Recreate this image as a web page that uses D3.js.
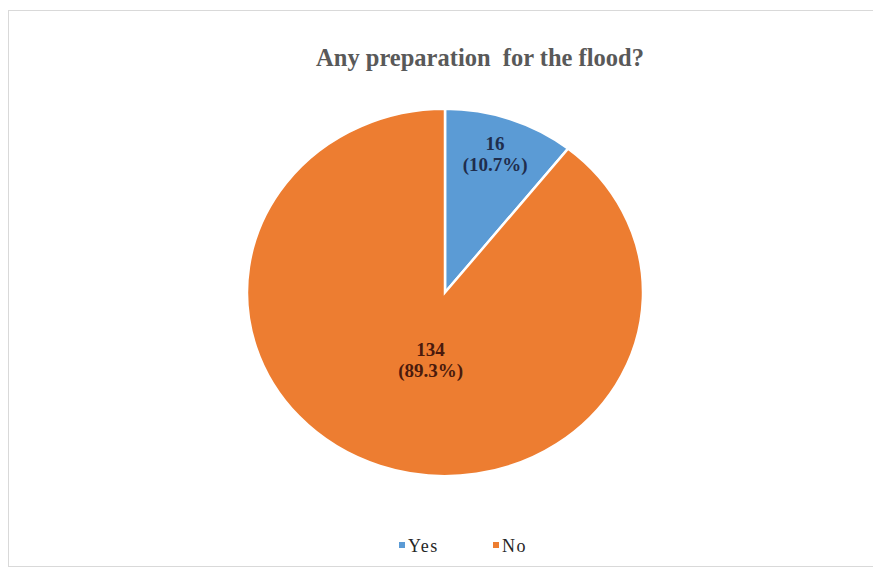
<!DOCTYPE html>
<html>
<head>
<meta charset="utf-8">
<script src="https://cdn.jsdelivr.net/npm/d3@7"></script>
<style>
  body { margin: 0; background: #fff; }
  text { font-family: "Liberation Serif", "Times New Roman", serif; }
</style>
</head>
<body>
<svg id="chart" width="873" height="569"></svg>
<script>
const categories = ["Yes", "No"];
const counts = [16, 134];
const percents = ["10.7%", "89.3%"];
const colors = ["#5b9bd5", "#ed7d31"];
const labelColors = ["#1f2d4d", "#4a1a0c"];
const title = "Any preparation\u00a0 for the flood?";

const width = 873, height = 569;
// the source picture is slightly squashed vertically, so the pie is an ellipse
const cx = 445, cy = 292.5, radius = 198, sy = 0.927;

const svg = d3.select("#chart");

// chart border
svg.append("rect")
    .attr("x", 8.5).attr("y", 10.5)
    .attr("width", width + 10).attr("height", height - 13)
    .attr("fill", "#fff")
    .attr("stroke", "#d9d9d9");

svg.append("text")
    .attr("x", 480).attr("y", 66)
    .attr("text-anchor", "middle")
    .attr("font-size", 24.5)
    .attr("font-weight", "bold")
    .attr("fill", "#595959")
    .text(title);

const data = categories.map((c, i) => ({ cat: c, value: counts[i], pct: percents[i], i }));

const pie = d3.pie().sort(null).value(d => d.value);
const arcs = pie(data);

const arc = d3.arc().innerRadius(0).outerRadius(radius);

const g = svg.append("g").attr("transform", `translate(${cx},${cy}) scale(1,${sy})`);

g.selectAll("path")
    .data(arcs)
    .join("path")
    .attr("d", arc)
    .attr("fill", d => colors[d.data.i])
    .attr("stroke", "#fff")
    .attr("stroke-width", 2.5);

// label placement: fraction of radius along the mid angle, plus a small shift for the big slice
const labelR = [0.80, 0.39];
const labelDx = [-2, 11];

const labels = svg.append("g")
    .selectAll("g")
    .data(arcs)
    .join("g")
    .attr("transform", d => {
        const a = (d.startAngle + d.endAngle) / 2;
        const r = radius * labelR[d.data.i];
        return `translate(${cx + Math.sin(a) * r + labelDx[d.data.i]},${cy - Math.cos(a) * r * sy})`;
    });

labels.append("text")
    .attr("text-anchor", "middle")
    .attr("font-size", 19)
    .attr("font-weight", "bold")
    .attr("fill", d => labelColors[d.data.i])
    .call(t => t.append("tspan").attr("x", 0).attr("y", -4).text(d => d.data.value))
    .call(t => t.append("tspan").attr("x", 0).attr("y", 17).text(d => `(${d.data.pct})`));

// legend
const legend = svg.append("g")
    .selectAll("g")
    .data(data)
    .join("g")
    .attr("transform", (d, i) => `translate(${399 + i * 94},545)`);

legend.append("rect")
    .attr("x", 0).attr("y", -3)
    .attr("width", 6).attr("height", 6)
    .attr("fill", d => colors[d.i]);

legend.append("text")
    .attr("x", 9).attr("y", 7)
    .attr("font-size", 18)
    .attr("letter-spacing", 1.5)
    .attr("fill", "#262626")
    .text(d => d.cat);
</script>
</body>
</html>
